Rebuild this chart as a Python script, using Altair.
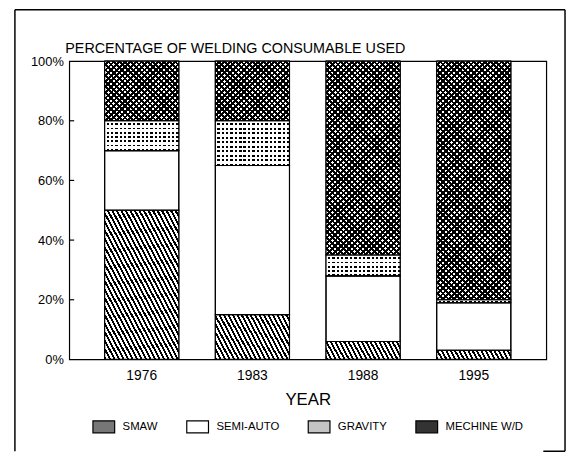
import math
import altair as alt
import pandas as pd

# ---- data ----
years = ["1976", "1983", "1988", "1995"]
categories = ["SMAW", "SEMI-AUTO", "GRAVITY", "MECHINE W/D"]
smaw = [50, 15, 6, 3]
semi_auto = [20, 50, 22, 16]
gravity = [10, 15, 7, 1]
mechine = [20, 20, 65, 80]
y_tick_values = [0, 20, 40, 60, 80, 100]
inner_ticks = [20, 40, 60, 80]

series = {"SMAW": smaw, "SEMI-AUTO": semi_auto, "GRAVITY": gravity, "MECHINE W/D": mechine}
rows = []
for i, yr in enumerate(years):
    lo = 0
    for cat in categories:
        v = series[cat][i]
        rows.append({"year": yr, "cat": cat, "value": v, "lo": lo, "hi": lo + v})
        lo += v
df = pd.DataFrame(rows)

# ---- layout ----
W, H = 483, 302
PI, PO = 0.33, 0.32
step = W / (len(years) - PI + 2 * PO)
BW = step * (1 - PI)
FONT = "Liberation Sans"


def stripes(w, h, theta, spacing, fg, bg, frac):
    """Linear gradient that draws stripes of a constant pixel angle/spacing."""
    th = math.radians(theta)
    c, s = math.cos(th), math.sin(th)
    h = max(h, 0.5)
    L = w * abs(s) + h * abs(c)
    denom = s * s / (h * h) + c * c / (w * w)
    k = L / (w * h * denom)
    du, dv = k * s / h, -k * c / w
    n = max(1, int(round(L / spacing)))
    stops = []
    for j in range(n):
        a, b, e = j / n, (j + frac) / n, (j + 1) / n
        stops += [
            {"offset": a, "color": fg},
            {"offset": b, "color": fg},
            {"offset": b, "color": bg},
            {"offset": e, "color": bg},
        ]
    return {
        "gradient": "linear",
        "x1": 0.5 - du / 2, "y1": 0.5 - dv / 2,
        "x2": 0.5 + du / 2, "y2": 0.5 + dv / 2,
        "stops": stops,
    }


CLEAR_W = "rgba(255,255,255,0)"
CLEAR_B = "rgba(0,0,0,0)"


def patterns(cat, h):
    if cat == "SMAW":
        return [stripes(BW, h, 62, 4.0, "black", "white", 0.47)]
    if cat == "GRAVITY":
        return [stripes(BW, h, 0, 4.6, "black", "white", 0.42),
                stripes(BW, h, 90, 4.3, "white", CLEAR_W, 0.45)]
    if cat == "MECHINE W/D":
        return [stripes(BW, h, -45, 4.0, "black", "white", 0.5),
                stripes(BW, h, 45, 4.0, "black", CLEAR_B, 0.5)]
    return []


x_enc = alt.X(
    "year:O", sort=years,
    scale=alt.Scale(paddingInner=PI, paddingOuter=PO),
    axis=alt.Axis(title="YEAR", titleFont=FONT, titleFontSize=17, titleFontWeight="normal",
                  titleColor="black", labelFont=FONT, labelFontSize=14, labelColor="black",
                  labelAngle=0, ticks=False, domain=False, labelPadding=9, titlePadding=10),
)
y_axis = alt.Axis(values=y_tick_values, labelExpr="datum.value + '%'", title=None, ticks=False,
                  domain=False, grid=False, labelFont=FONT, labelFontSize=13,
                  labelColor="black", labelPadding=6)
y_enc = alt.Y("lo:Q", scale=alt.Scale(domain=[0, 100]), axis=y_axis)

legend = alt.Legend(
    title=None, orient="none", legendX=23, legendY=358, direction="horizontal",
    symbolType="M-1,-0.55H1V0.55H-1Z", symbolSize=484, symbolStrokeColor="black",
    symbolStrokeWidth=1.2, symbolOpacity=1, labelFont=FONT, labelFontSize=11.5,
    labelColor="black", labelOffset=7, columnPadding=26, padding=0,
)

base = alt.Chart(df).mark_bar(stroke="black", strokeWidth=1).encode(
    x=x_enc, y=y_enc, y2="hi:Q",
    fill=alt.Fill("cat:N", sort=categories,
                  scale=alt.Scale(domain=categories, range=["#777777", "#ffffff", "#c4c4c4", "#333333"]),
                  legend=legend),
)

layers = [base]
for i, yr in enumerate(years):
    for cat in categories:
        h = series[cat][i] / 100 * H
        for g in patterns(cat, h):
            layers.append(
                alt.Chart(df)
                .transform_filter(f"datum.year == '{yr}' && datum.cat == '{cat}'")
                .mark_bar()
                .encode(x=x_enc, y=y_enc, y2="hi:Q", fill=alt.value(g))
            )

outline = alt.Chart(df).mark_bar(fill="white", fillOpacity=0, stroke="black", strokeWidth=1.2).encode(
    x=x_enc, y=y_enc, y2="hi:Q"
)
layers.append(outline)

ticks = alt.Chart(pd.DataFrame({"lo": inner_ticks})).mark_rule(color="black", strokeWidth=1.2).encode(
    y=y_enc, x=alt.value(0), x2=alt.value(5)
)
layers.append(ticks)

# page frame (decoration of the scanned figure)
one = pd.DataFrame({"k": [0]})
frame_left = alt.Chart(one).mark_rule(color="black", strokeWidth=1.5).encode(
    x=alt.value(-55), y=alt.value(-52), y2=alt.value(395))
frame_top = alt.Chart(one).mark_rule(color="black", strokeWidth=1.5).encode(
    x=alt.value(-55), x2=alt.value(502), y=alt.value(-52))
frame_right = alt.Chart(one).mark_rule(color="black", strokeWidth=1.5).encode(
    x=alt.value(502), y=alt.value(-52), y2=alt.value(395))
frame_bot = alt.Chart(one).mark_rule(color="black", strokeWidth=1.5).encode(
    x=alt.value(480), x2=alt.value(502), y=alt.value(395))
layers += [frame_left, frame_top, frame_right, frame_bot]

chart = (
    alt.layer(*layers)
    .properties(
        width=W, height=H,
        title=alt.TitleParams("PERCENTAGE OF WELDING CONSUMABLE USED", anchor="start", frame="group",
                              font=FONT, fontSize=14.5, fontWeight="normal", color="black",
                              offset=0, dx=-4, dy=48),
        autosize=alt.AutoSizeParams(type="none"),
        padding={"left": 62, "top": 51, "right": 21, "bottom": 93},
        background="white",
    )
    .configure_view(stroke="black", strokeWidth=1.2)
)

chart.save("out.html", embed_options={"renderer": "svg", "actions": False})
